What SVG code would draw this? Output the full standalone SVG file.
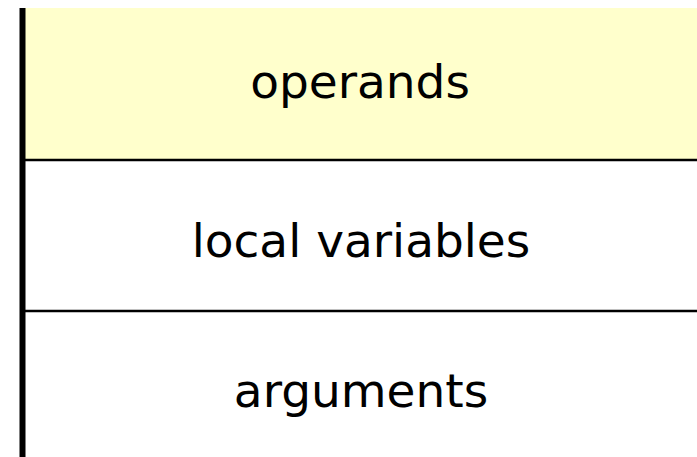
<svg xmlns="http://www.w3.org/2000/svg" width="697" height="457" viewBox="0 0 697 457">
<style>
.lbl{font-family:"DejaVu Sans",sans-serif;font-size:47px;fill:#000;text-anchor:middle}
.sep{stroke:#000;stroke-width:2.5}
</style>
<rect width="697" height="457" fill="#fff"/>
<g id="operands">
<rect x="22" y="8" width="675" height="152" fill="#ffffcc"/>
<text class="lbl" x="360" y="98">operands</text>
</g>
<g id="local-variables">
<text class="lbl" x="361" y="257">local variables</text>
</g>
<g id="arguments">
<text class="lbl" x="361" y="407">arguments</text>
</g>
<g id="connectors">
<line class="sep" x1="20" y1="160" x2="697" y2="160"/>
<line class="sep" x1="20" y1="311" x2="697" y2="311"/>
<line x1="22.5" y1="8" x2="22.5" y2="457" stroke="#000" stroke-width="6"/>
</g>
</svg>
